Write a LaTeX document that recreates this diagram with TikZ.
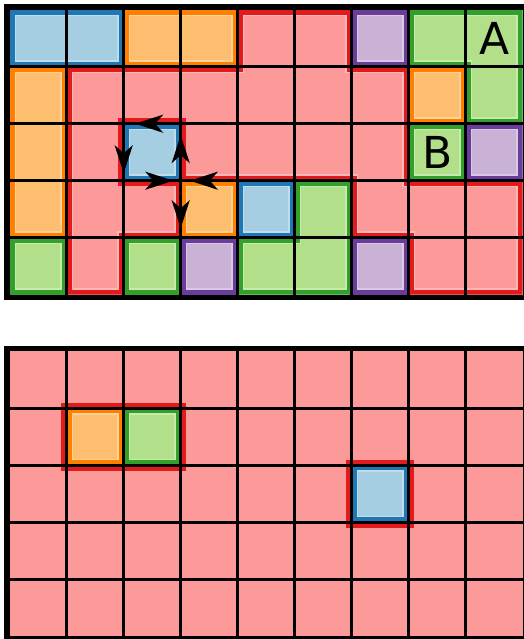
\documentclass[tikz,border=0pt]{standalone}
\usepackage{fontspec}
\newfontfamily\labelfont{DejaVu Sans}
\usetikzlibrary{arrows.meta}
\definecolor{lblue}{HTML}{A6CEE3}
\definecolor{dblue}{HTML}{1F78B4}
\definecolor{lgreen}{HTML}{B2DF8A}
\definecolor{dgreen}{HTML}{33A02C}
\definecolor{pinkfill}{HTML}{FB9A99}
\definecolor{dred}{HTML}{E31A1C}
\definecolor{lorange}{HTML}{FDBF6F}
\definecolor{dorange}{HTML}{FF7F00}
\definecolor{lpurple}{HTML}{CAB2D6}
\definecolor{dpurple}{HTML}{6A3D9A}
\newcommand\myregion[3]{%
  \begin{scope}
    \clip #3;
    \fill[#1] #3;
    \draw[line width=13pt, #1!70!white] #3;
    \draw[line width=10pt, #2] #3;
  \end{scope}}
\newcommand\mygridlines{%
  \foreach \i in {1,...,8} {\draw[gridline] (\i,0) -- (\i,5);}
  \foreach \j in {1,...,4} {\draw[gridline] (0,\j) -- (9,\j);}
  \draw[frameline] ([xshift=-2.75pt,yshift=2.75pt]0,0) rectangle ([xshift=2.75pt,yshift=-2.75pt]9,5);}
\tikzset{
  gridline/.style={line width=2.8pt, black},
  frameline/.style={line width=5.5pt, black},
  holeline/.style={line width=11pt, dred},
  turnarrow/.style={line width=2.8pt, black, -{Stealth[length=28pt,width=18pt,inset=8pt]}},
  celltext/.style={inner sep=0pt, font=\labelfont\fontsize{44}{44}\selectfont}
}
\begin{document}
\begin{tikzpicture}
\useasboundingbox (0pt,0pt) rectangle (523pt,-639pt);
% ---------- top grid ----------
\begin{scope}[shift={(9.7pt,-9.7pt)}, x=57pt, y=-57pt]
  % big red region
  \myregion{pinkfill}{dred}{(4,0) -- (6,0) -- (6,1) -- (7,1) -- (7,3) -- (9,3) -- (9,5) -- (7,5) -- (7,4) -- (6,4) -- (6,3) -- (3,3) -- (3,4) -- (2,4) -- (2,5) -- (1,5) -- (1,1) -- (4,1) -- cycle}
  \draw[holeline] (2,2) rectangle (3,3);
  % other regions
  \myregion{lblue}{dblue}{(0,0) rectangle (2,1)}
  \myregion{lorange}{dorange}{(2,0) rectangle (4,1)}
  \myregion{lpurple}{dpurple}{(6,0) rectangle (7,1)}
  \myregion{lgreen}{dgreen}{(7,0) -- (9,0) -- (9,2) -- (8,2) -- (8,1) -- (7,1) -- cycle}
  \myregion{lorange}{dorange}{(0,1) rectangle (1,4)}
  \myregion{lorange}{dorange}{(7,1) rectangle (8,2)}
  \myregion{lblue}{dblue}{(2,2) rectangle (3,3)}
  \myregion{lgreen}{dgreen}{(7,2) rectangle (8,3)}
  \myregion{lpurple}{dpurple}{(8,2) rectangle (9,3)}
  \myregion{lorange}{dorange}{(3,3) rectangle (4,4)}
  \myregion{lblue}{dblue}{(4,3) rectangle (5,4)}
  \myregion{lgreen}{dgreen}{(5,3) -- (6,3) -- (6,5) -- (4,5) -- (4,4) -- (5,4) -- cycle}
  \myregion{lgreen}{dgreen}{(0,4) rectangle (1,5)}
  \myregion{lgreen}{dgreen}{(2,4) rectangle (3,5)}
  \myregion{lpurple}{dpurple}{(3,4) rectangle (4,5)}
  \myregion{lpurple}{dpurple}{(6,4) rectangle (7,5)}
  % grid and frame
  \mygridlines
  % labels
  \node[celltext] (A) at (8.5,0.5) {A};
  \node[celltext] (B) at (7.5,2.5) {B};
  % arrows
  \coordinate (p22) at (2,2);
  \coordinate (p32) at (3,2);
  \coordinate (p23) at (2,3);
  \coordinate (p33) at (3,3);
  \coordinate (p43) at (4,3);
  \coordinate (t1) at (2.2,2);
  \coordinate (t2) at (2,2.87);
  \coordinate (t3) at (3,2.2);
  \coordinate (t4) at (2.87,3);
  \coordinate (t5) at (3.16,3);
  \coordinate (t6) at (3,3.835);
  \draw[turnarrow] (p32) -- (t1);
  \draw[turnarrow] (p22) -- (t2);
  \draw[turnarrow] (p33) -- (t3);
  \draw[turnarrow] (p23) -- (t4);
  \draw[turnarrow] (p43) -- (t5);
  \draw[turnarrow] (p33) -- (t6);
\end{scope}
% ---------- bottom grid ----------
\begin{scope}[shift={(9.7pt,-351.3pt)}, x=57pt, y=-57pt]
  \fill[pinkfill] (0,0) rectangle (9,5);
  \draw[holeline] (1,1) rectangle (3,2);
  \draw[holeline] (6,2) rectangle (7,3);
  \myregion{lorange}{dorange}{(1,1) rectangle (2,2)}
  \myregion{lgreen}{dgreen}{(2,1) rectangle (3,2)}
  \myregion{lblue}{dblue}{(6,2) rectangle (7,3)}
  \mygridlines
\end{scope}
\end{tikzpicture}
\end{document}
